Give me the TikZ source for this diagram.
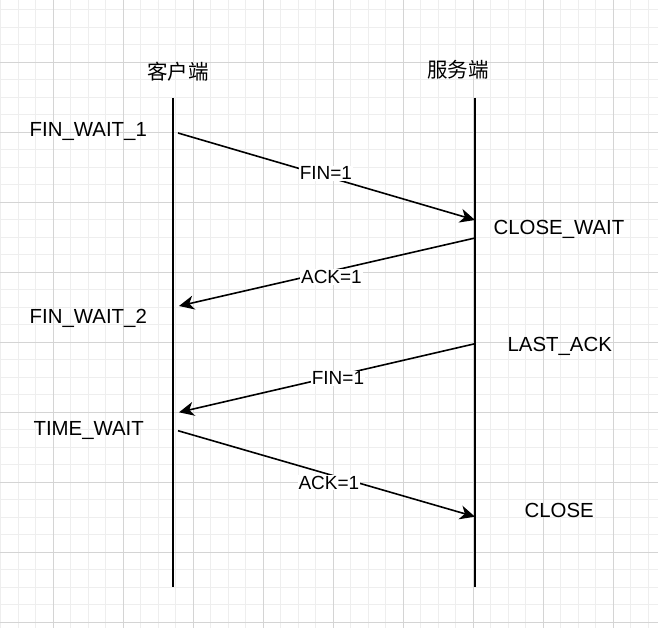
\documentclass[tikz,border=0pt]{standalone}
\usepackage{fontspec}
\setmainfont{Liberation Sans}
\newfontfamily\cjk{Noto Sans CJK SC}
\usetikzlibrary{arrows.meta}
\definecolor{gridmajor}{HTML}{D4D4D4}
\definecolor{gridminor}{HTML}{EEEEEE}

\begin{document}
\begin{tikzpicture}[x=1pt,y=-1pt,
    state/.style={anchor=base,font=\fontsize{20.4}{24}\selectfont},
    host/.style={anchor=base,font=\cjk\fontsize{20.5}{24}\selectfont},
    life/.style={line width=1.7pt},
    msg/.style={line width=1.6pt,-{Stealth[length=15pt,width=14pt,inset=4.5pt]}},
    lbl/.style={fill=white,inner sep=1pt,font=\fontsize{19}{22}\selectfont}]
  \useasboundingbox (0,0) rectangle (658,628);
  % background grid
  \foreach \g in {0,...,37}
    \draw[gridminor,line width=1pt] (0.8+17.5*\g,0) -- (0.8+17.5*\g,628);
  \foreach \g in {0,...,35}
    \draw[gridminor,line width=1pt] (0,9.8+17.5*\g) -- (658,9.8+17.5*\g);
  \foreach \g in {0,...,8} {
    \draw[gridmajor,line width=1pt] (53.3+70*\g,0) -- (53.3+70*\g,628);
    \draw[gridmajor,line width=1pt] (0,62.3+70*\g) -- (658,62.3+70*\g);
  }

  % hosts and lifelines
  \node[host] (client) at (178,80) {客户端};
  \node[host] (server) at (458,78) {服务端};
  \coordinate (cTop) at (172.7,98);
  \coordinate (cBot) at (172.7,587);
  \coordinate (sTop) at (475,98);
  \coordinate (sBot) at (475,587);
  \draw[life] (cTop) -- (cBot);
  \draw[life] (sTop) -- (sBot);

  % states
  \foreach \n/\x/\y/\t in {fw1/88.3/136.7/FIN\_WAIT\_1, fw2/88.3/323/FIN\_WAIT\_2,
      tw/88.7/435/TIME\_WAIT, cw/559/235/CLOSE\_WAIT, la/559.7/351/LAST\_ACK,
      cl/559.2/517.3/CLOSE}
    \node[state] (\n) at (\x,\y) {\t};

  % messages
  \coordinate (m1a) at (178,133);
  \coordinate (m1b) at (475,220);
  \coordinate (m2a) at (475,238);
  \coordinate (m2b) at (179,306);
  \coordinate (m3a) at (475,343.7);
  \coordinate (m3b) at (179,412.3);
  \coordinate (m4a) at (178,430.7);
  \coordinate (m4b) at (475,516.7);
  \draw[msg] (m1a) -- node[lbl,pos=.498,yshift=3.1pt] (fin1) {FIN=1} (m1b);
  \draw[msg] (m2a) -- node[lbl,pos=.485,yshift=-6pt] (ack1) {ACK=1} (m2b);
  \draw[msg] (m3a) -- node[lbl,pos=.463,yshift=-2.8pt] (fin2) {FIN=1} (m3b);
  \draw[msg] (m4a) -- node[lbl,pos=.508,yshift=-8.3pt] (ack2) {ACK=1} (m4b);
\end{tikzpicture}
\end{document}
